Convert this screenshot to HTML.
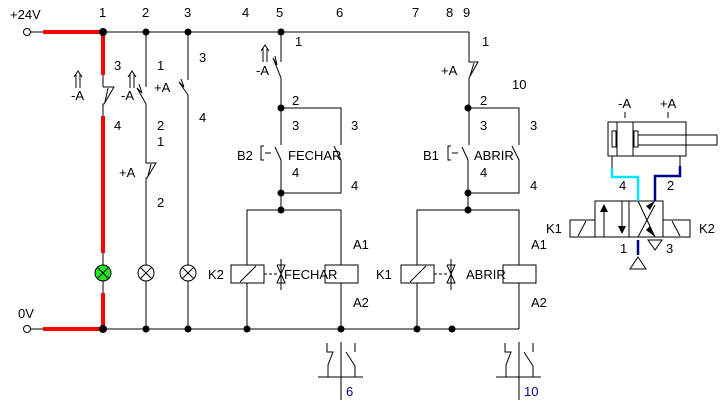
<!DOCTYPE html>
<html><head><meta charset="utf-8"><style>
html,body{margin:0;padding:0;background:#fff;width:721px;height:404px;overflow:hidden}
svg{display:block}
text{font-family:"Liberation Sans",sans-serif;font-size:13px;fill:#000}
</style></head><body>
<svg width="721" height="404" viewBox="0 0 721 404" xmlns="http://www.w3.org/2000/svg">
<g stroke="#000" stroke-width="1" fill="none">
<line x1="30" y1="32" x2="469" y2="32"/>
<line x1="30" y1="329" x2="519" y2="329"/>
<circle cx="27" cy="32" r="3.5" fill="#fff"/>
<circle cx="27" cy="329" r="3.5" fill="#fff"/>
<line x1="103" y1="75" x2="103" y2="87"/>
<polyline points="103,87 114,87 104,104 103,104 103,116"/>
<line x1="108" y1="88" x2="105" y2="102"/>
<line x1="103" y1="253" x2="103" y2="265"/>
<line x1="103" y1="281" x2="103" y2="293"/>
<line x1="146" y1="32" x2="146" y2="87"/>
<polyline points="137,88 146,104 146,163 156,163 147,178 146,178 146,265"/>
<polyline points="139,84 142,93 137,88"/>
<line x1="151" y1="164" x2="148" y2="176"/>
<line x1="146" y1="281" x2="146" y2="329"/>
<line x1="188" y1="32" x2="188" y2="80"/>
<polyline points="179,82 188,95 188,265"/>
<polyline points="181,79 184,87 179,82"/>
<line x1="188" y1="281" x2="188" y2="329"/>
<line x1="281" y1="32" x2="281" y2="62"/>
<polyline points="273,58 281,78 281,145"/>
<polyline points="275,56 277,65 273,58"/>
<polyline points="275,147 281,160 281,193"/>
<polyline points="281,108 341,108 341,145"/>
<polyline points="334,146 341,160 341,193 281,193 281,210"/>
<polyline points="247,265 247,210 341,210 341,265"/>
<line x1="247" y1="283" x2="247" y2="329"/>
<line x1="341" y1="283" x2="341" y2="329"/>
<rect x="231" y="265" width="33" height="18"/>
<line x1="240" y1="282" x2="256" y2="266"/>
<rect x="325" y="265" width="33" height="18"/>
<line x1="264" y1="274" x2="279" y2="274" stroke-dasharray="3,2"/>
<line x1="281" y1="259" x2="281" y2="290"/>
<polyline points="277,265 285,265 277,283 285,283 277,265"/>
<polyline points="264,146 261,146 261,160 264,160"/>
<line x1="265" y1="153" x2="271" y2="153"/>
<polyline points="469,32 469,62 478,62 469,78 469,145"/>
<line x1="474" y1="63" x2="470" y2="76"/>
<polyline points="462,147 468,160 468,193"/>
<polyline points="468,108 519,108 519,145"/>
<polyline points="512,146 519,160 519,193 468,193 468,210"/>
<polyline points="417,265 417,210 519,210 519,265"/>
<line x1="417" y1="283" x2="417" y2="329"/>
<line x1="519" y1="283" x2="519" y2="329"/>
<rect x="401" y="265" width="33" height="18"/>
<line x1="410" y1="282" x2="426" y2="266"/>
<rect x="503" y="265" width="33" height="18"/>
<line x1="434" y1="274" x2="448" y2="274" stroke-dasharray="3,2"/>
<line x1="451" y1="259" x2="451" y2="290"/>
<polyline points="447,265 455,265 447,283 455,283 447,265"/>
<polyline points="451,146 448,146 448,160 451,160"/>
<line x1="452" y1="153" x2="458" y2="153"/>
<line x1="341" y1="342" x2="341" y2="400"/>
<line x1="318" y1="377" x2="363" y2="377"/>
<polyline points="327,343 327,352 333,352 328,365 328,377"/>
<line x1="355" y1="343" x2="355" y2="352"/>
<polyline points="346,352 355,366 355,377"/>
<line x1="519" y1="342" x2="519" y2="400"/>
<line x1="496" y1="377" x2="541" y2="377"/>
<polyline points="505,343 505,352 511,352 506,365 506,377"/>
<line x1="533" y1="343" x2="533" y2="352"/>
<polyline points="524,352 533,366 533,377"/>
<path d="M76,88 V74 M80,88 V74 M74,77 L78,71 L82,77"/>
<path d="M130,88 V74 M134,88 V74 M128,77 L132,71 L136,77"/>
<path d="M263,62 V48 M267,62 V48 M261,51 L265,45 L269,51"/>
<line x1="625" y1="112" x2="625" y2="118"/>
<line x1="668" y1="112" x2="668" y2="118"/>
<rect x="608" y="122" width="78" height="34"/>
<line x1="617" y1="122" x2="617" y2="156"/>
<line x1="633" y1="122" x2="633" y2="156"/>
<rect x="612" y="131" width="4" height="16"/>
<rect x="634" y="131" width="4" height="16"/>
<rect x="638" y="135" width="79" height="10"/>
<line x1="612" y1="156" x2="612" y2="168"/>
<line x1="680" y1="156" x2="680" y2="168"/>
<rect x="595" y="201" width="68" height="36"/>
<line x1="629" y1="201" x2="629" y2="237"/>
<rect x="570" y="220" width="25" height="17"/>
<line x1="578" y1="236" x2="586" y2="221"/>
<rect x="663" y="220" width="27" height="17"/>
<line x1="672" y1="221" x2="680" y2="236"/>
<line x1="604" y1="210" x2="604" y2="237"/>
<line x1="622" y1="201" x2="622" y2="228"/>
<line x1="638" y1="201" x2="655" y2="237"/>
<line x1="655" y1="205" x2="638" y2="237"/>
<polygon points="630,269 646,269 638,257"/>
<polygon points="648,240 662,240 655,250"/>
</g>
<g fill="#000">
<polygon points="600,212 608,212 604,204"/>
<polygon points="618,226 626,226 622,234"/>
<polygon points="655,201 650,210 646,206"/>
<polygon points="655,237 646,230 650,226"/>
<circle cx="103" cy="32" r="3.5"/><circle cx="146" cy="32" r="3.5"/><circle cx="188" cy="32" r="3.5"/><circle cx="281" cy="32" r="3.5"/>
<circle cx="103" cy="329" r="3.5"/><circle cx="146" cy="329" r="3.5"/><circle cx="188" cy="329" r="3.5"/><circle cx="247" cy="329" r="3.5"/><circle cx="341" cy="329" r="3.5"/><circle cx="417" cy="329" r="3.5"/><circle cx="452" cy="329" r="3.5"/>
<circle cx="281" cy="108" r="3.5"/><circle cx="281" cy="193" r="3.5"/><circle cx="281" cy="210" r="3.5"/>
<circle cx="468" cy="108" r="3.5"/><circle cx="468" cy="193" r="3.5"/><circle cx="468" cy="210" r="3.5"/>
</g>
<g stroke="#f00" stroke-width="4" fill="none">
<line x1="43" y1="32" x2="103" y2="32"/>
<line x1="103" y1="32" x2="103" y2="75"/>
<line x1="103" y1="116" x2="103" y2="253"/>
<line x1="103" y1="293" x2="103" y2="329"/>
<line x1="43" y1="329" x2="103" y2="329"/>
</g>
<g stroke="#000" stroke-width="1">
<circle cx="103" cy="273" r="8" fill="#22e622"/>
<path d="M97.5,267.5 L108.5,278.5 M108.5,267.5 L97.5,278.5"/>
<circle cx="146" cy="273" r="8" fill="#fff"/>
<path d="M140.5,267.5 L151.5,278.5 M151.5,267.5 L140.5,278.5"/>
<circle cx="188" cy="273" r="8" fill="#fff"/>
<path d="M182.5,267.5 L193.5,278.5 M193.5,267.5 L182.5,278.5"/>
<circle cx="103" cy="329" r="3.5" fill="#000"/>
<circle cx="103" cy="32" r="3.5" fill="#000"/>
</g>
<g fill="none" stroke-width="2.5">
<polyline points="612,168 612,177 638,177 638,201" stroke="#00e5ff"/>
<polyline points="680,166 680,176 655,176 655,201" stroke="#00008b"/>
<line x1="638" y1="240" x2="638" y2="255" stroke="#00008b"/>
</g>
<text x="10" y="19">+24V</text>
<text x="18" y="318">0V</text>
<text x="99" y="17">1</text><text x="142" y="17">2</text><text x="184" y="17">3</text>
<text x="242" y="17">4</text><text x="276" y="17">5</text><text x="336" y="17">6</text>
<text x="412" y="17">7</text><text x="446" y="17">8</text><text x="463" y="17">9</text>
<text x="114" y="70">3</text><text x="114" y="130">4</text>
<text x="71" y="100">-A</text><text x="121" y="100">-A</text>
<text x="154" y="92">+A</text><text x="157" y="70">1</text>
<text x="157" y="130">2</text><text x="157" y="146">1</text>
<text x="119" y="177">+A</text><text x="157" y="207">2</text>
<text x="199" y="62">3</text><text x="199" y="122">4</text>
<text x="256" y="75">-A</text><text x="295" y="46">1</text>
<text x="292" y="105">2</text><text x="292" y="130">3</text><text x="351" y="130">3</text>
<text x="237" y="160">B2</text><text x="288" y="160">FECHAR</text>
<text x="292" y="177">4</text><text x="351" y="190">4</text>
<text x="208" y="279">K2</text><text x="284" y="279">FECHAR</text>
<text x="353" y="249">A1</text><text x="353" y="307">A2</text>
<text x="482" y="46">1</text><text x="441" y="75">+A</text><text x="512" y="89">10</text>
<text x="480" y="105">2</text><text x="480" y="130">3</text><text x="530" y="130">3</text>
<text x="423" y="160">B1</text><text x="474" y="160">ABRIR</text>
<text x="480" y="177">4</text><text x="530" y="190">4</text>
<text x="376" y="279">K1</text><text x="466" y="279">ABRIR</text>
<text x="531" y="249">A1</text><text x="531" y="307">A2</text>
<text x="346" y="396" style="fill:#00008b">6</text><text x="524" y="396" style="fill:#00008b">10</text>
<text x="618" y="108">-A</text><text x="660" y="108">+A</text>
<text x="619" y="190">4</text><text x="667" y="190">2</text>
<text x="620" y="253">1</text><text x="666" y="253">3</text>
<text x="546" y="233">K1</text><text x="699" y="233">K2</text>
</svg>
</body></html>
